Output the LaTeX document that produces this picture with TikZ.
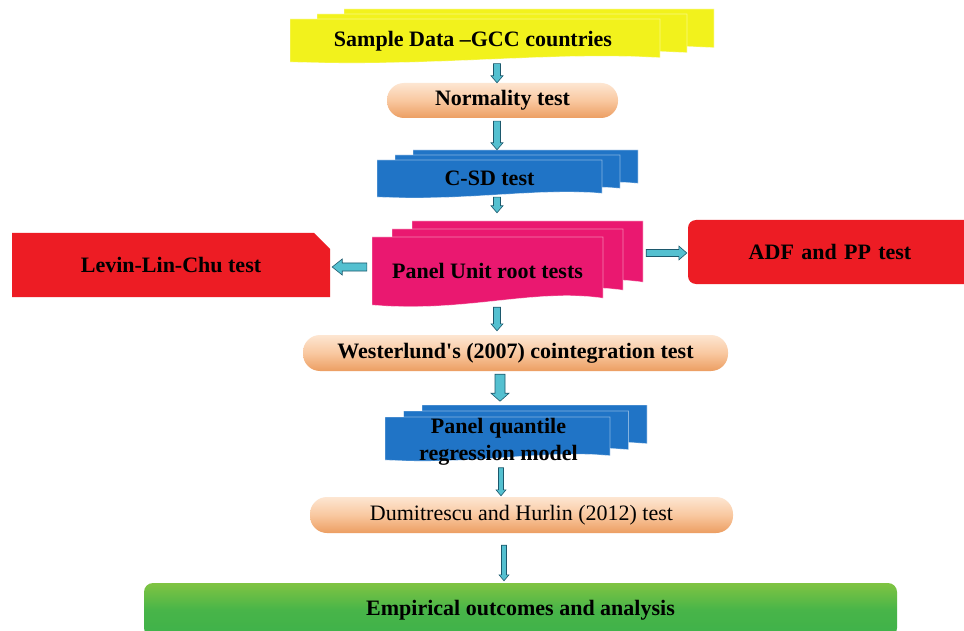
\documentclass[tikz,border=0pt]{standalone}
\usepackage{fontspec}
\setmainfont{Liberation Serif}[Ligatures=TeXOff]
\usetikzlibrary{calc,shapes.misc}
\definecolor{yelc}{RGB}{242,242,28}
\definecolor{bluec}{RGB}{32,116,198}
\definecolor{magc}{RGB}{234,24,112}
\definecolor{redc}{RGB}{237,28,36}
\definecolor{greenT}{RGB}{128,196,66}
\definecolor{greenB}{RGB}{62,178,74}
\definecolor{peachT}{RGB}{253,230,210}
\definecolor{peachM}{RGB}{249,200,160}
\definecolor{peachB}{RGB}{236,158,98}
\definecolor{arrowc}{RGB}{84,192,208}
\definecolor{arrowd}{RGB}{28,88,108}
\tikzset{
  txt/.style={font=\bfseries\fontsize{22}{27}\selectfont, inner sep=0pt, align=center, text=black},
  txtreg/.style={font=\fontsize{22}{27}\selectfont, inner sep=0pt, align=center, text=black},
  capsule/.style={rounded corners=17pt, top color=peachT, bottom color=peachB, middle color=peachM},
  redbox/.style={fill=redc},
  arr/.style={fill=arrowc, draw=arrowd, line width=0.6pt, line join=miter},
  layer/.style={draw=white, draw opacity=0.45, line width=0.7pt}
}
% multi-document shape: L T R B dx dy colour (pixel units, y downwards)
\newcommand\mdoc[7]{%
  \foreach \lay in {2,1,0}{%
    \fill[#7, layer]
      ({#1+\lay*#5},{#2-\lay*#6}) -- ({#3+\lay*#5},{#2-\lay*#6})
      -- ({#3+\lay*#5},{#4-\lay*#6-0.1*(#4-#2)})
      .. controls ({#3+\lay*#5-0.3*(#3-#1)},{#4-\lay*#6-0.25*(#4-#2)})
         and ({#1+\lay*#5+0.4*(#3-#1)},{#4-\lay*#6+0.12*(#4-#2)})
      .. ({#1+\lay*#5},{#4-\lay*#6}) -- cycle;
  }}
% block arrows: start, end, half shaft, half head, head length
\newcommand\varr[5]{%
  \filldraw[arr] let \p1=(#1), \p2=(#2) in
    (\x1-#3,\y1) -- (\x1+#3,\y1) -- (\x1+#3,\y2+#5) -- (\x1+#4,\y2+#5)
    -- (\x1,\y2) -- (\x1-#4,\y2+#5) -- (\x1-#3,\y2+#5) -- cycle;}
\newcommand\larr[5]{%
  \filldraw[arr] let \p1=(#1), \p2=(#2) in
    (\x1,\y1-#3) -- (\x1,\y1+#3) -- (\x2+#5,\y1+#3) -- (\x2+#5,\y1+#4)
    -- (\x2,\y1) -- (\x2+#5,\y1-#4) -- (\x2+#5,\y1-#3) -- cycle;}
\newcommand\rarr[5]{%
  \filldraw[arr] let \p1=(#1), \p2=(#2) in
    (\x1,\y1-#3) -- (\x1,\y1+#3) -- (\x2-#5,\y1+#3) -- (\x2-#5,\y1+#4)
    -- (\x2,\y1) -- (\x2-#5,\y1-#4) -- (\x2-#5,\y1-#3) -- cycle;}
\begin{document}
\begin{tikzpicture}[x=1pt,y=-1pt]
\useasboundingbox (0,0) rectangle (964,631);
\fill[white] (0,0) rectangle (964,631);

% shapes
\mdoc{290}{19}{660}{62}{27}{5}{yelc}
\mdoc{377}{160}{602}{197}{18}{5}{bluec}
\mdoc{372}{237}{603}{305}{20}{8}{magc}
\mdoc{385}{417}{610}{460}{18.5}{6}{bluec}

% nodes
\node[txt, minimum width=370pt, minimum height=43pt] (yel) at (473,41) {Sample Data –GCC countries};
\node[txt, capsule, minimum width=231pt, minimum height=35pt] (norm) at (502.5,100.5) {Normality test};
\node[txt, minimum width=225pt, minimum height=37pt] (csd) at (489.5,178.5) {C-SD test};
\node[txt, minimum width=231pt, minimum height=68pt] (pur) at (487.5,271) {Panel Unit root tests};
\node[txt, redbox, chamfered rectangle, chamfered rectangle corners=north east,
      chamfered rectangle xsep=8pt, chamfered rectangle ysep=8pt,
      minimum width=318pt, minimum height=64pt] (llc) at (171,265) {Levin-Lin-Chu test};
\node[txt, redbox, rounded corners=8pt, minimum width=284pt, minimum height=64pt,
      text width=284pt] (adf) at (830,252) {ADF and PP test};
\node[txt, capsule, minimum width=425pt, minimum height=36pt] (west) at (515.5,353) {Westerlund's (2007) cointegration test};
\node[txt, minimum width=225pt, minimum height=43pt] (pqr) at (498.5,442) {Panel quantile\\regression model};
\node[txtreg, capsule, minimum width=423pt, minimum height=36pt] (dh) at (521.5,515) {Dumitrescu and Hurlin (2012) test};
\node[txt, rounded corners=9pt, top color=greenT, bottom color=greenB, middle color=greenB!85!greenT,
      minimum width=753pt, minimum height=54pt] (emp) at (520.5,610) {Empirical outcomes and analysis};

% connectors
\varr{[xshift=24pt,yshift=-1pt]yel.south}{norm.north}{3.5pt}{6pt}{7pt}
\varr{[xshift=-5.5pt,yshift=-3pt]norm.south}{[yshift=10pt]csd.north}{3.5pt}{6pt}{7pt}
\varr{[xshift=7.5pt]csd.south}{[yshift=24pt]pur.north}{3.5pt}{6pt}{7pt}
\varr{[xshift=9.5pt,yshift=-2pt]pur.south}{[yshift=4pt]west.north}{3.5pt}{6pt}{7pt}
\larr{[xshift=-5pt,yshift=4pt]pur.west}{[xshift=2pt]llc.east}{4pt}{8pt}{10pt}
\rarr{[xshift=43pt,yshift=18pt]pur.east}{[xshift=-1pt]adf.west}{3.5pt}{7pt}{8pt}
\varr{[xshift=-15.5pt,yshift=-3pt]west.south}{[yshift=17pt]pqr.north}{5pt}{9pt}{8pt}
\varr{[xshift=2.5pt,yshift=-2pt]pqr.south}{[yshift=1pt]dh.north}{2.5pt}{5pt}{6pt}
\varr{[xshift=-17.5pt,yshift=-12pt]dh.south}{[yshift=2pt]emp.north}{2.5pt}{5pt}{6pt}
\end{tikzpicture}
\end{document}
